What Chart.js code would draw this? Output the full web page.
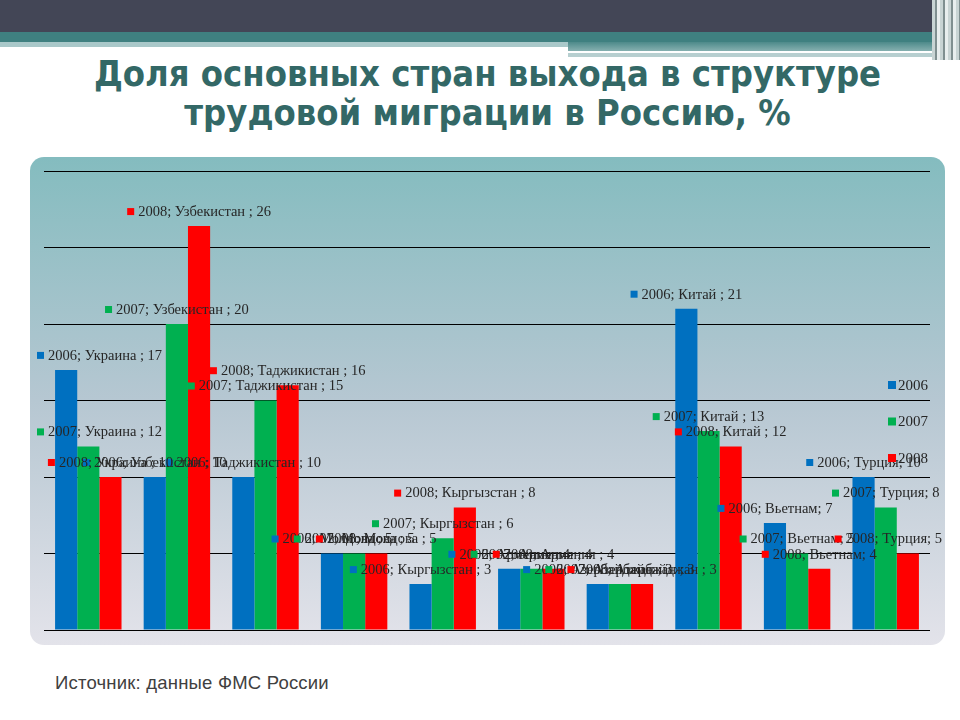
<!DOCTYPE html>
<html>
<head>
<meta charset="utf-8">
<script src="https://cdn.jsdelivr.net/npm/chart.js@4.4.1/dist/chart.umd.min.js"></script>
<style>
  body { margin: 0; width: 960px; height: 720px; background: #fff; position: relative; overflow: hidden; }
  .bar { position: absolute; }
  #title { position: absolute; left: 0; top: 54px; width: 975px; text-align: center;
    font-family: "DejaVu Sans Condensed", "DejaVu Sans", sans-serif; font-weight: bold;
    font-size: 36px; line-height: 39px; color: #336866; }
  #panel { position: absolute; left: 30px; top: 157px; width: 915px; height: 488px; border-radius: 14px;
    background: linear-gradient(#84bcbf 0%, #b6c7d2 50%, #e3e3ea 100%); }
  #src { position: absolute; left: 55px; top: 672px; font-family: "Liberation Sans", Arial, sans-serif;
    font-size: 18.5px; letter-spacing: 0.2px; color: #404040; }
  canvas { position: absolute; left: 0; top: 0; }
</style>
</head>
<body>
<!-- шапка слайда -->
<div class="bar" style="left:0;top:0;width:960px;height:32px;background:#434656"></div>
<div class="bar" style="left:0;top:32px;width:960px;height:10px;background:#3f8080"></div>
<div class="bar" style="left:0;top:42px;width:568px;height:5px;background:#a9c8c9"></div>
<div class="bar" style="left:568px;top:42px;width:370px;height:9px;background:linear-gradient(#4d8a8a,#86b0b0)"></div>
<div class="bar" style="left:568px;top:51px;width:320px;height:2px;background:#fff"></div>
<div class="bar" style="left:568px;top:53px;width:370px;height:4px;background:#b7cfd0"></div>
<div class="bar" style="left:932px;top:0;width:28px;height:60px;background:repeating-linear-gradient(90deg,#c8d4d4 0 3px,#7f8f90 3px 5px,#e8eeee 5px 8px)"></div>

<div id="title">Доля основных стран выхода в структуре<br>трудовой миграции в Россию, %</div>
<div id="panel"></div>
<div id="src">Источник: данные ФМС России</div>

<canvas id="myBarChart" width="960" height="720"></canvas>

<script>
// данные
const categories = ["Украина", "Узбекистан", "Таджикистан", "Молдова", "Кыргызстан", "Армения", "Азербайджан", "Китай", "Вьетнам", "Турция"];
const years = ["2006", "2007", "2008"];
const values2006 = [17, 10, 10, 5, 3, 4, 3, 21, 7, 10];
const values2007 = [12, 20, 15, 5, 6, 4, 3, 13, 5, 8];
const values2008 = [10, 26.4, 16, 5, 8, 4, 3, 12, 4, 5];
const yTicks = [0, 5, 10, 15, 20, 25, 30];
// в подписях этих стран нет пробела перед ";"
const tightSep = ["Вьетнам", "Турция"];

const colors = ["#0070c0", "#00b050", "#ff0000"];
const serif = '"Liberation Serif", "DejaVu Serif", serif';

// подписи данных: "год; страна ; значение" с цветным квадратиком
const barLabels = {
  id: 'barLabels',
  afterDatasetsDraw(chart) {
    const c = chart.ctx;
    c.save();
    c.font = '14.5px ' + serif;
    c.textBaseline = 'middle';
    chart.data.datasets.forEach((ds, i) => {
      chart.getDatasetMeta(i).data.forEach((el, j) => {
        const cat = categories[j];
        const sep = tightSep.includes(cat) ? '; ' : ' ; ';
        const txt = ds.label + '; ' + cat + sep + Math.round(ds.data[j]);
        const w = 7 + 4 + c.measureText(txt).width;
        let left = el.x - w / 2;
        if (left < 37) left = 37;
        if (left + w > 942) left = 942 - w;
        const y = el.y - 14;
        c.fillStyle = colors[i];
        c.fillRect(left, y - 4, 7, 7);
        c.fillStyle = '#262626';
        c.fillText(txt, left + 11, y);
      });
    });
    // легенда справа
    c.font = '15px ' + serif;
    years.forEach((yr, i) => {
      const y = 385 + i * 36.5;
      c.fillStyle = colors[i];
      c.fillRect(888, y - 4, 8, 8);
      c.fillStyle = '#262626';
      c.fillText(yr, 898, y + 1);
    });
    c.restore();
  }
};

new Chart(document.getElementById('myBarChart'), {
  type: 'bar',
  data: {
    labels: categories,
    datasets: [
      { label: years[0], data: values2006, backgroundColor: colors[0] },
      { label: years[1], data: values2007, backgroundColor: colors[1] },
      { label: years[2], data: values2008, backgroundColor: colors[2] }
    ]
  },
  options: {
    responsive: false,
    animation: false,
    layout: { padding: { left: 44, right: 30, top: 171, bottom: 90 } },
    datasets: { bar: { categoryPercentage: 0.75, barPercentage: 1.0 } },
    plugins: { legend: { display: false }, tooltip: { enabled: false } },
    scales: {
      x: { display: false },
      y: {
        min: yTicks[0],
        max: yTicks[yTicks.length - 1],
        afterBuildTicks: s => { s.ticks = yTicks.map(v => ({ value: v })); },
        afterFit: s => { s.width = 0; },
        ticks: { display: false },
        border: { display: false },
        grid: { color: '#000', lineWidth: 1, drawTicks: false }
      }
    }
  },
  plugins: [barLabels]
});
</script>
</body>
</html>
